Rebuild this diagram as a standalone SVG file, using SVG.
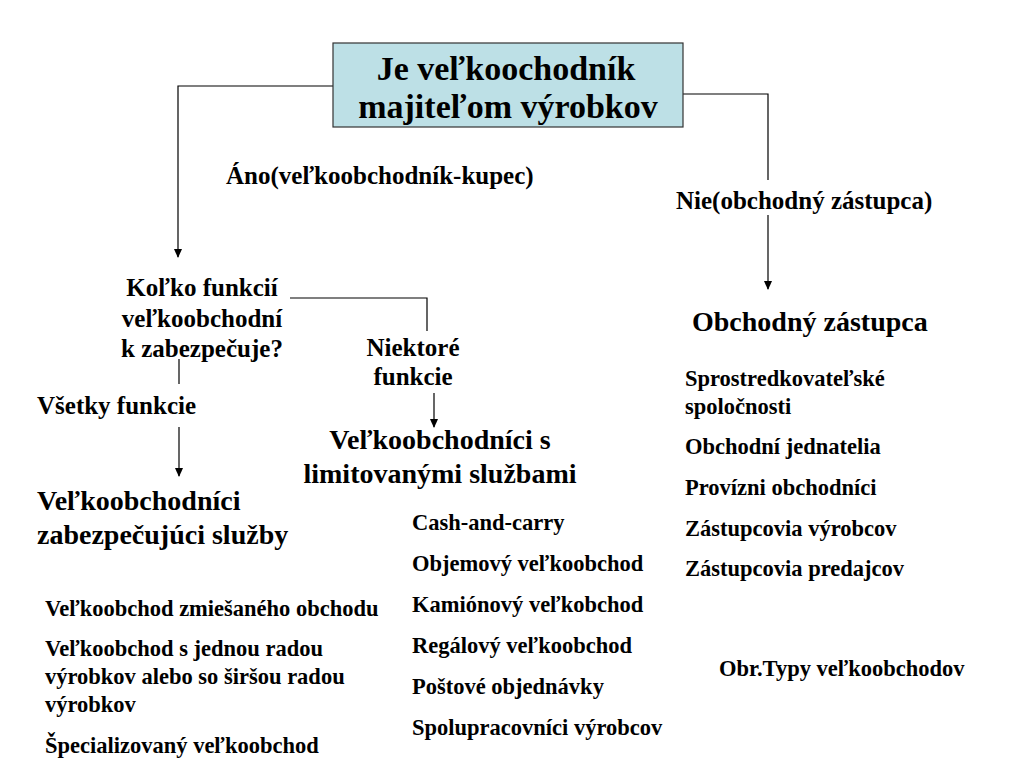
<svg xmlns="http://www.w3.org/2000/svg" width="1024" height="768" viewBox="0 0 1024 768">
<style>
text{font-family:'Liberation Serif','Times New Roman',serif;font-weight:bold;fill:#000}
.s22{font-size:22.5px}
.s25{font-size:25px}
.s28{font-size:28px}
.s34{font-size:34px}
.c{text-anchor:middle}
.ln{fill:none;stroke:#000;stroke-width:1.2}
</style>
<defs>
<marker id="ah" markerWidth="10" markerHeight="10" refX="8" refY="5" orient="auto" markerUnits="userSpaceOnUse">
<path d="M0,1 L9,5 L0,9 z" fill="#000"/>
</marker>
</defs>
<rect width="1024" height="768" fill="#fff"/>
<g id="connectors">
<path class="ln" d="M333,86 H178 V257" marker-end="url(#ah)"/>
<path class="ln" d="M683,94 H768 V180"/>
<path class="ln" d="M768,215 V289" marker-end="url(#ah)"/>
<path class="ln" d="M290,298 H427 V331"/>
<path class="ln" d="M434,393 V427" marker-end="url(#ah)"/>
<path class="ln" d="M179,359 V384"/>
<path class="ln" d="M179,427 V476" marker-end="url(#ah)"/>
</g>
<g id="root">
<rect x="333" y="43" width="350" height="84" fill="#bde0e6" stroke="#333" stroke-width="1.2"/>
<text class="s34 c" x="506" y="80">Je veľkoochodník</text>
<text class="s34 c" x="508" y="118">majiteľom výrobkov</text>
</g>
<g id="yes-label"><text class="s25" x="226" y="184">Áno(veľkoobchodník-kupec)</text></g>
<g id="no-label"><text class="s25" x="676" y="209">Nie(obchodný zástupca)</text></g>
<g id="question">
<text class="s25 c" x="202" y="296">Koľko funkcií</text>
<text class="s25 c" x="202" y="327">veľkoobchodní</text>
<text class="s25 c" x="202" y="357">k zabezpečuje?</text>
</g>
<g id="some"><text class="s25 c" x="413" y="356">Niektoré</text><text class="s25 c" x="413" y="385">funkcie</text></g>
<g id="all"><text class="s25" x="37" y="414">Všetky funkcie</text></g>
<g id="full-service">
<text class="s28" x="37" y="510">Veľkoobchodníci</text>
<text class="s28" x="37" y="544">zabezpečujúci služby</text>
</g>
<g id="limited">
<text class="s28 c" x="440" y="449">Veľkoobchodníci s</text>
<text class="s28 c" x="440" y="483">limitovanými službami</text>
</g>
<g id="agent"><text class="s28" x="692" y="331">Obchodný zástupca</text></g>
<g id="agent-list">
<text class="s22" x="685" y="386">Sprostredkovateľské</text>
<text class="s22" x="685" y="414">spoločnosti</text>
<text class="s22" x="685" y="454">Obchodní jednatelia</text>
<text class="s22" x="685" y="495">Provízni obchodníci</text>
<text class="s22" x="685" y="536">Zástupcovia výrobcov</text>
<text class="s22" x="685" y="576">Zástupcovia predajcov</text>
</g>
<g id="limited-list">
<text class="s22" x="412" y="530">Cash-and-carry</text>
<text class="s22" x="412" y="571">Objemový veľkoobchod</text>
<text class="s22" x="412" y="612">Kamiónový veľkobchod</text>
<text class="s22" x="412" y="653">Regálový veľkoobchod</text>
<text class="s22" x="412" y="694">Poštové objednávky</text>
<text class="s22" x="412" y="735">Spolupracovníci výrobcov</text>
</g>
<g id="full-list">
<text class="s22" x="45" y="616">Veľkoobchod zmiešaného obchodu</text>
<text class="s22" x="45" y="656">Veľkoobchod s jednou radou</text>
<text class="s22" x="45" y="684">výrobkov alebo so širšou radou</text>
<text class="s22" x="45" y="712">výrobkov</text>
<text class="s22" x="45" y="753">Špecializovaný veľkoobchod</text>
</g>
<g id="caption"><text class="s22" x="719" y="676">Obr.Typy veľkoobchodov</text></g>
</svg>
